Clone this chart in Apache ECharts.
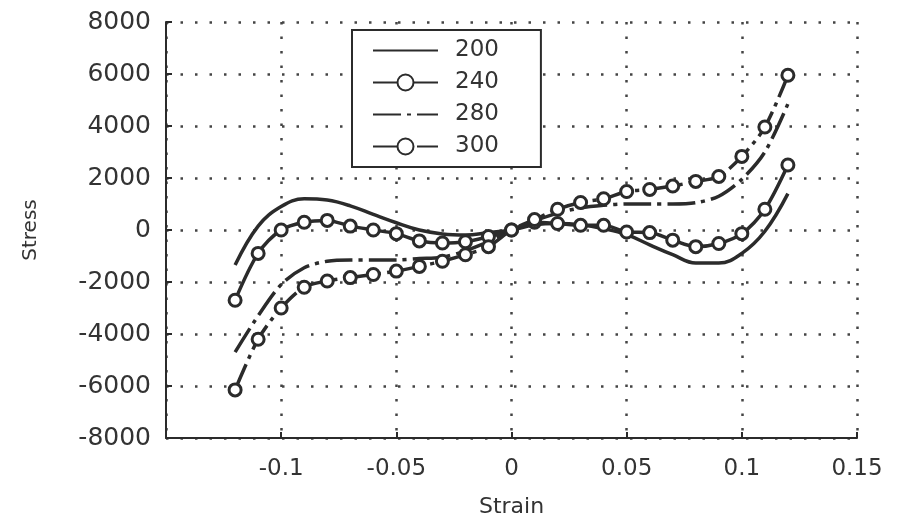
<!DOCTYPE html>
<html>
<head>
<meta charset="utf-8">
<script src="https://cdn.jsdelivr.net/npm/echarts@6/dist/echarts.min.js"></script>
<style>
  html, body { margin: 0; padding: 0; background: #fff; }
</style>
</head>
<body>
<div id="chart" style="width: 897px; height: 523px;"></div>
<script>
// strain positions of the points (markers every 0.01)
const strain = [-0.12, -0.11, -0.10, -0.09, -0.08, -0.07, -0.06, -0.05, -0.04, -0.03, -0.02, -0.01, 0,
  0.01, 0.02, 0.03, 0.04, 0.05, 0.06, 0.07, 0.08, 0.09, 0.10, 0.11, 0.12];

// stress values
const s200 = [-1350, 150, 900, 1200, 1150, 930, 600, 280, 0, -150, -190, -100, 0,
  200, 250, 200, 50, -180, -570, -950, -1270, -1270, -900, -50, 1400];
const s240 = [-2700, -900, 0, 300, 370, 150, 0, -140, -420, -500, -450, -250, 0,
  300, 250, 180, 180, -75, -100, -390, -640, -520, -140, 800, 2500];
const s280 = [-4700, -3300, -2100, -1450, -1200, -1150, -1150, -1150, -1100, -1050, -800, -450, 0,
  350, 650, 850, 950, 1000, 1000, 1000, 1050, 1300, 1950, 3000, 4850];
const s300 = [-6150, -4200, -3000, -2200, -1960, -1830, -1710, -1580, -1400, -1200, -950, -640, 0,
  400, 800, 1060, 1200, 1480, 1560, 1690, 1870, 2060, 2830, 3960, 5950];

const legendNames = ['200', '240', '280', '300'];
const xTicks = [-0.15, -0.1, -0.05, 0, 0.05, 0.1, 0.15];

const ink = '#2b2b2b';
const font = 'DejaVu Sans';

const pairs = vals => strain.map((x, i) => [x, vals[i]]);

const chart = echarts.init(document.getElementById('chart'));

const markerStyle = {
  color: '#fff',
  borderColor: ink,
  borderWidth: 3,
};
const noMarker = { color: 'rgba(0,0,0,0)', borderColor: 'rgba(0,0,0,0)', borderWidth: 0 };

const option = {
  animation: false,
  backgroundColor: '#fff',
  grid: { left: 166, right: 40, top: 22, bottom: 75 },
  legend: {
    data: legendNames.map((n, i) => (i % 2 === 0 ? { name: n, itemStyle: noMarker } : { name: n })),
    orient: 'vertical',
    left: 352,
    top: 30,
    padding: [9, 42, 9, 20],
    itemWidth: 65,
    itemHeight: 20,
    itemGap: 9,
    backgroundColor: '#fff',
    borderColor: ink,
    borderWidth: 2,
    borderRadius: 0,
    textStyle: { fontFamily: font, fontSize: 23, lineHeight: 20, color: '#333', padding: [0, 0, 0, 12] },
  },
  xAxis: {
    type: 'value',
    min: -0.15,
    max: 0.15,
    interval: 0.05,
    name: 'Strain',
    nameLocation: 'middle',
    nameGap: 58,
    nameTextStyle: { fontFamily: font, fontSize: 22, color: '#333' },
    axisLine: { onZero: false, lineStyle: { color: ink, width: 2 } },
    axisTick: { inside: true, length: 6, lineStyle: { color: ink, width: 2 } },
    axisLabel: {
      fontFamily: font, fontSize: 23, color: '#333', margin: 20,
      formatter: v => {
        const t = xTicks.find(k => Math.abs(k - v) < 1e-9);
        if (t === -0.15) return '';
        return String(Math.round(v * 100) / 100);
      },
    },
    splitLine: { show: true, lineStyle: { color: '#444', width: 2.5, type: [2.5, 12] } },
  },
  yAxis: {
    type: 'value',
    min: -8000,
    max: 8000,
    interval: 2000,
    name: 'Stress',
    nameLocation: 'middle',
    nameGap: 125,
    nameTextStyle: { fontFamily: font, fontSize: 20, color: '#333' },
    axisLine: { show: true, onZero: false, lineStyle: { color: ink, width: 2 } },
    axisTick: { show: true, inside: true, length: 6, lineStyle: { color: ink, width: 2 } },
    axisLabel: { fontFamily: font, fontSize: 25, color: '#333', margin: 15, formatter: v => String(v) },
    splitLine: { show: true, lineStyle: { color: '#444', width: 2.5, type: [2.5, 12] } },
  },
  series: [
    {
      name: '200',
      type: 'line',
      data: pairs(s200),
      smooth: 0.4,
      symbol: 'none',
      lineStyle: { color: ink, width: 3.5 },
      itemStyle: { color: ink },
    },
    {
      name: '240',
      type: 'line',
      data: pairs(s240),
      smooth: 0.3,
      symbol: 'circle',
      symbolSize: 12,
      lineStyle: { color: ink, width: 3.5 },
      itemStyle: markerStyle,
    },
    {
      name: '280',
      type: 'line',
      data: pairs(s280),
      smooth: 0.3,
      symbol: 'none',
      lineStyle: { color: ink, width: 3.5, type: [28, 6, 4, 6] },
      itemStyle: { color: ink },
    },
    {
      name: '300',
      type: 'line',
      data: pairs(s300),
      smooth: 0.3,
      symbol: 'circle',
      symbolSize: 12,
      lineStyle: { color: ink, width: 3.5, type: [28, 6, 4, 6] },
      itemStyle: markerStyle,
    },
  ],
};

chart.setOption(option);
</script>
</body>
</html>
